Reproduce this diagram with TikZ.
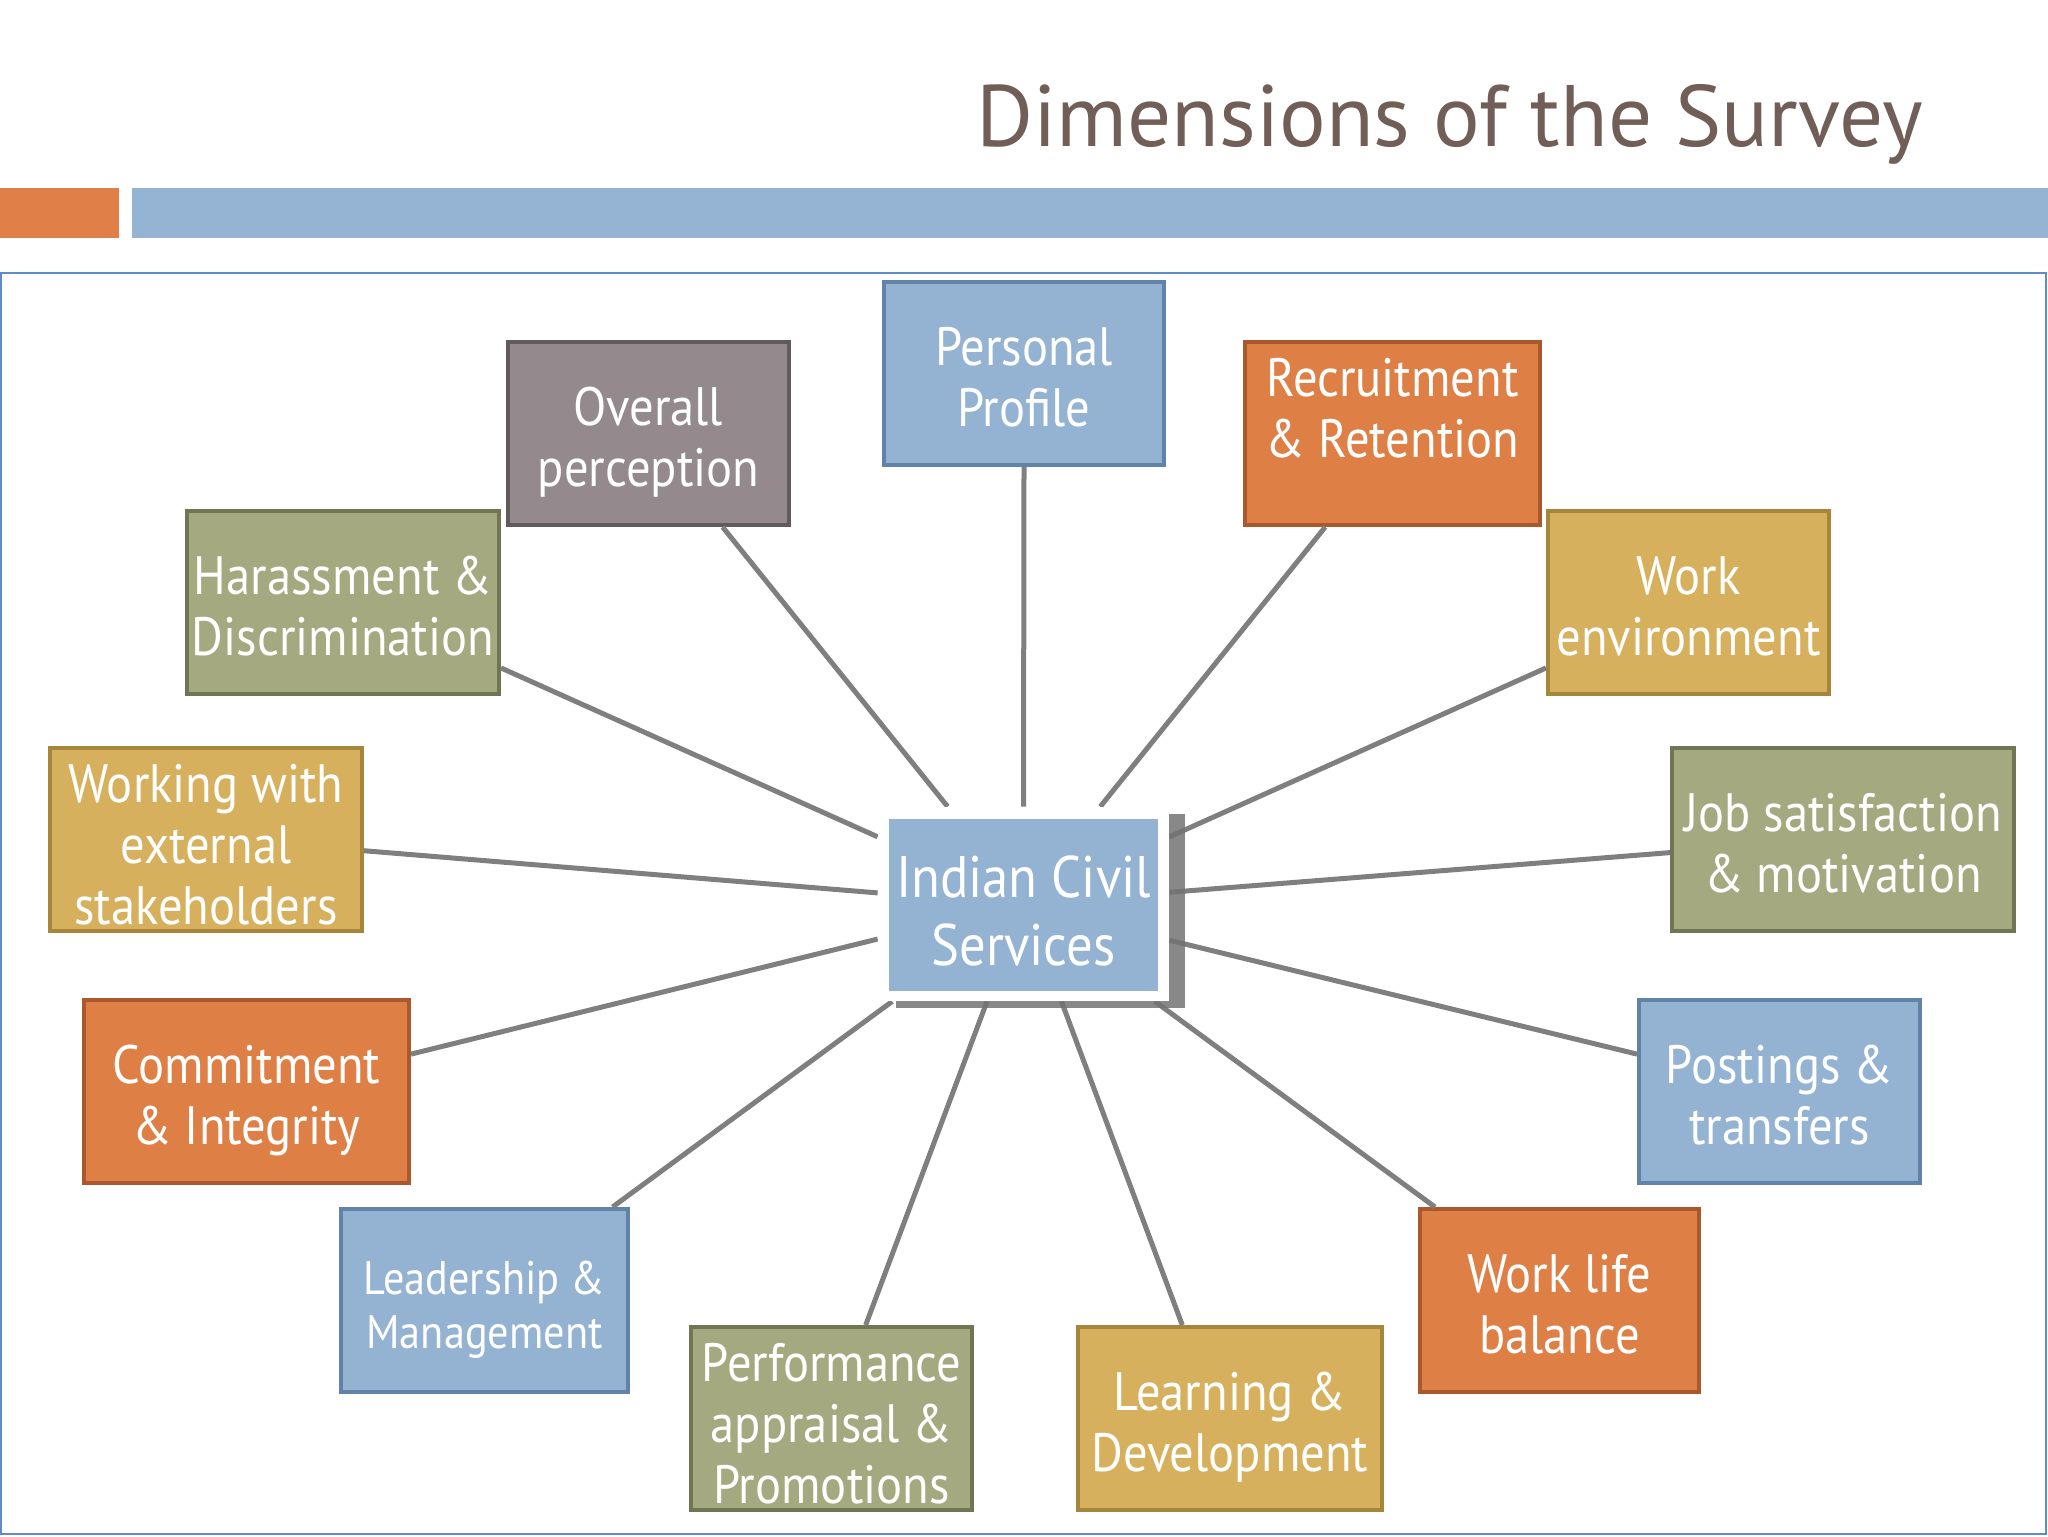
\documentclass[tikz,border=0pt]{standalone}
\usepackage{fontspec}
\setmainfont{PT Sans}[FakeStretch=0.9]
\newfontfamily\titlefont{PT Sans}
\usetikzlibrary{calc}
\definecolor{cblue}{HTML}{94B3D2}
\definecolor{cbluebd}{HTML}{6183A8}
\definecolor{cgray}{HTML}{948A8D}
\definecolor{cgraybd}{HTML}{605A5C}
\definecolor{corange}{HTML}{DE8046}
\definecolor{corangebd}{HTML}{A9592D}
\definecolor{colive}{HTML}{A4A97F}
\definecolor{colivebd}{HTML}{707554}
\definecolor{cgold}{HTML}{D6B05C}
\definecolor{cgoldbd}{HTML}{A6863A}
\definecolor{ctitle}{HTML}{705E57}
\definecolor{cbarorange}{HTML}{E08048}
\definecolor{cbarblue}{HTML}{95B4D4}
\definecolor{cframe}{HTML}{5F8BC6}
\definecolor{cline}{HTML}{7F7F7F}
% text wrappers with fixed first-line height and last-line depth
\newcommand\bt[1]{\rule{0pt}{30pt}#1\rule[-7.5pt]{0pt}{0pt}}
\newcommand\btthree[1]{\rule{0pt}{27pt}#1\rule[-3.5pt]{0pt}{0pt}}
\newcommand\btsmall[1]{\rule{0pt}{26pt}#1\rule[-5pt]{0pt}{0pt}}
\newcommand\btcentre[1]{\rule{0pt}{33pt}#1\rule[-6.7pt]{0pt}{0pt}}
\tikzset{
  dimbox/.style={rectangle, inner sep=0pt, minimum height=91.5pt, line width=2pt,
    text=white, align=center, font=\fontsize{27}{30.5}\selectfont},
  bluebox/.style={dimbox, fill=cblue, draw=cbluebd},
  graybox/.style={dimbox, fill=cgray, draw=cgraybd},
  orangebox/.style={dimbox, fill=corange, draw=corangebd},
  olivebox/.style={dimbox, fill=colive, draw=colivebd},
  goldbox/.style={dimbox, fill=cgold, draw=cgoldbd},
  spoke/.style={draw=cline, line width=2.5pt},
}
\begin{document}
\begin{tikzpicture}[x=0.5pt, y=-0.5pt]
\useasboundingbox (0,0) rectangle (2048,1536);
% title and bars
\node[anchor=base east, inner sep=0pt, text=ctitle, font=\titlefont\fontsize{43.6}{50}\selectfont] (title) at (1923,146) {Dimensions of the Survey};
\fill[cbarorange] (0,188) rectangle (119,238);
\fill[cbarblue] (132,188) rectangle (2048,238);
\draw[cframe, line width=1.2pt] (1,273) rectangle (2046,1534);
% boxes
\node[bluebox, minimum width=140pt] (personal) at (1024,373.5) {\bt{Personal\\Profile}};
\node[graybox, minimum width=140.5pt] (overall) at (648.5,433.5) {\bt{Overall\\perception}};
\node[orangebox, minimum width=147.5pt] (recruit) at (1392.5,433.5) {\btthree{Recruitment\\\& Retention\\}};
\node[olivebox, minimum width=156pt] (harass) at (343,602.5) {\bt{Harassment \&\\Discrimination}};
\node[goldbox, minimum width=140.5pt] (workenv) at (1688.5,602.5) {\bt{Work\\environment}};
\node[goldbox, minimum width=156pt] (working) at (206,839.5) {\btthree{Working with\\external\\stakeholders}};
\node[olivebox, minimum width=171pt] (job) at (1843,839.5) {\bt{Job satisfaction\\\& motivation}};
\node[orangebox, minimum width=162.5pt] (commit) at (246.5,1091.5) {\bt{Commitment\\\& Integrity}};
\node[bluebox, minimum width=140.5pt] (postings) at (1779.5,1091.5) {\bt{Postings \&\\transfers}};
\node[bluebox, minimum width=143.5pt, font=\fontsize{23.5}{26.75}\selectfont] (leader) at (484.5,1300.5) {\btsmall{Leadership \&\\Management}};
\node[orangebox, minimum width=139.5pt] (worklife) at (1559.5,1300.5) {\bt{Work life\\balance}};
\node[olivebox, minimum width=140.5pt] (perf) at (831.5,1418.5) {\btthree{Performance\\appraisal \&\\Promotions}};
\node[goldbox, minimum width=152pt] (learn) at (1230,1418.5) {\bt{Learning \&\\Development}};
% center placeholder (white frame)
\node[rectangle, inner sep=0pt, minimum width=145.5pt, minimum height=97pt] (ics) at (1023.5,904) {};
% spokes
\draw[spoke] (personal.south) -- ($(ics.north west)!0.5!(ics.north east)$);
\draw[spoke] ($(overall.south west)!0.76!(overall.south east)$) -- ($(ics.north west)!0.24!(ics.north east)$);
\draw[spoke] ($(recruit.south west)!0.275!(recruit.south east)$) -- ($(ics.north west)!0.763!(ics.north east)$);
\draw[spoke] ($(harass.north east)!0.85!(harass.south east)$) -- ($(ics.north west)!0.155!(ics.south west)$);
\draw[spoke] ($(working.north east)!0.56!(working.south east)$) -- ($(ics.north west)!0.443!(ics.south west)$);
\draw[spoke] ($(commit.north east)!0.30!(commit.south east)$) -- ($(ics.north west)!0.68!(ics.south west)$);
\draw[spoke] ($(workenv.north west)!0.85!(workenv.south west)$) -- ($(ics.north east)!0.155!(ics.south east)$);
\draw[spoke] ($(job.north west)!0.57!(job.south west)$) -- ($(ics.north east)!0.44!(ics.south east)$);
\draw[spoke] ($(postings.north west)!0.30!(postings.south west)$) -- ($(ics.north east)!0.686!(ics.south east)$);
\draw[spoke] ($(leader.north west)!0.94!(leader.north east)$) -- ($(ics.south west)!0.05!(ics.south east)$);
\draw[spoke] ($(perf.north west)!0.62!(perf.north east)$) -- ($(ics.south west)!0.375!(ics.south east)$);
\draw[spoke] ($(learn.north west)!0.345!(learn.north east)$) -- ($(ics.south west)!0.63!(ics.south east)$);
\draw[spoke] ($(worklife.north west)!0.06!(worklife.north east)$) -- ($(ics.south west)!0.95!(ics.south east)$);
% shadow, white frame, centre box
\fill[black!55, opacity=0.85] ($(ics.north west)+(18,7)$) rectangle ($(ics.south east)+(16,7)$);
\fill[white] (ics.north west) rectangle (ics.south east);
\node[rectangle, inner sep=0pt, fill=cblue, minimum width=134.5pt, minimum height=86pt, text=white, align=center, font=\fontsize{29.3}{34}\selectfont] (icsin) at (1023.5,905) {\btcentre{Indian Civil\\Services}};
\end{tikzpicture}
\end{document}
